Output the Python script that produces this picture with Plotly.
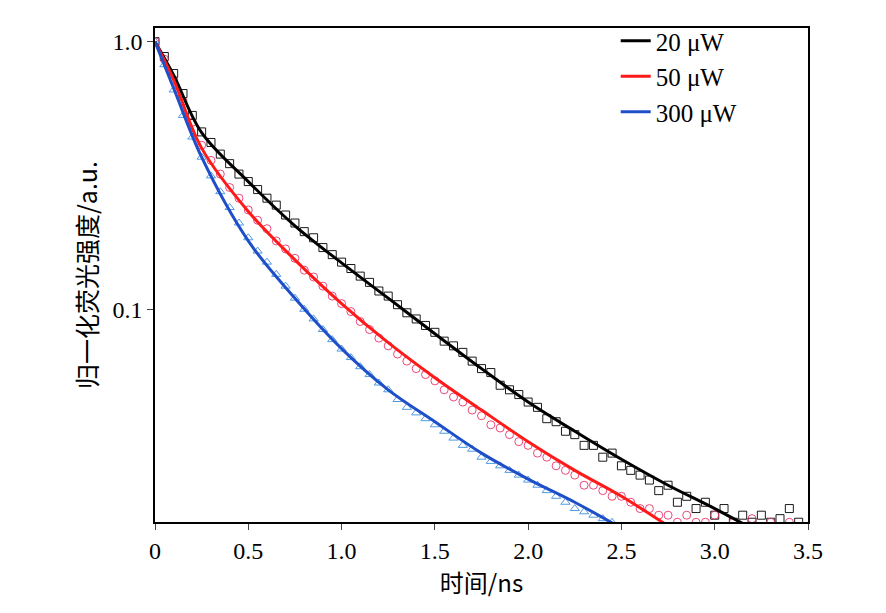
import plotly.graph_objects as go

# measured points (step 0.05 ns)
x_20 = [round(i * 0.05, 2) for i in range(70)]
y_20 = [1.0, 0.88, 0.76, 0.64, 0.53, 0.46, 0.42, 0.38, 0.35, 0.32, 0.30, 0.28, 0.26, 0.245, 0.225, 0.21, 0.195, 0.185,
        0.17, 0.16, 0.15, 0.142, 0.133, 0.126, 0.117, 0.112, 0.104, 0.097, 0.092, 0.087, 0.082, 0.076, 0.073, 0.069,
        0.064, 0.06, 0.058, 0.052, 0.05, 0.048, 0.045, 0.043, 0.039, 0.038, 0.035, 0.034, 0.031, 0.031, 0.028, 0.029,
        0.026, 0.025, 0.024, 0.023, 0.021, 0.022, 0.019, 0.020, 0.018, 0.019, 0.017, 0.018, 0.016, 0.017, 0.016,
        0.017, 0.016, 0.0165, 0.018, 0.016]
x_50 = [round(i * 0.05, 2) for i in range(61)] + [3.1, 3.2, 3.3, 3.4]
y_50 = [1.0, 0.86, 0.72, 0.6, 0.5, 0.41, 0.36, 0.32, 0.285, 0.26, 0.235, 0.215, 0.2, 0.18, 0.168, 0.155, 0.14, 0.132,
        0.122, 0.112, 0.105, 0.098, 0.09, 0.084, 0.078, 0.073, 0.068, 0.064, 0.06, 0.057, 0.054, 0.05, 0.047, 0.045,
        0.042, 0.04, 0.037, 0.036, 0.034, 0.032, 0.031, 0.029, 0.028, 0.026, 0.025, 0.024, 0.022, 0.022, 0.021, 0.020,
        0.02, 0.019, 0.018, 0.018, 0.017, 0.017, 0.016, 0.017, 0.016, 0.016, 0.017, 0.016, 0.0165, 0.016, 0.016]
x_300 = [round(i * 0.05, 2) for i in range(50)]
y_300 = [1.0, 0.82, 0.66, 0.53, 0.44, 0.37, 0.315, 0.275, 0.24, 0.21, 0.185, 0.165, 0.15, 0.135, 0.122, 0.11, 0.1,
         0.092, 0.084, 0.077, 0.071, 0.066, 0.061, 0.057, 0.053, 0.05, 0.046, 0.043, 0.041, 0.039, 0.037, 0.035, 0.033,
         0.031, 0.03, 0.028, 0.027, 0.026, 0.025, 0.024, 0.023, 0.022, 0.021, 0.02, 0.019, 0.018, 0.0175, 0.017,
         0.0165, 0.016]

# fitted curves
fx_20 = [0, 0.1, 0.25, 0.5, 0.75, 1.0, 1.25, 1.5, 1.75, 2.0, 2.25, 2.5, 2.75, 3.0, 3.25]
fy_20 = [1, 0.75, 0.457, 0.30, 0.205, 0.149, 0.11, 0.081, 0.06, 0.045, 0.035, 0.0275, 0.022, 0.018, 0.0145]
fx_50 = [0, 0.1, 0.25, 0.5, 0.75, 1.0, 1.25, 1.5, 1.75, 2.0, 2.25, 2.5, 2.75]
fy_50 = [1, 0.72, 0.40, 0.232, 0.153, 0.105, 0.075, 0.0555, 0.042, 0.032, 0.025, 0.02, 0.0155]
fx_300 = [0, 0.1, 0.25, 0.5, 0.75, 1.0, 1.25, 1.5, 1.75, 2.0, 2.25, 2.5]
fy_300 = [1, 0.67, 0.37, 0.18, 0.11, 0.0713, 0.05, 0.038, 0.029, 0.0232, 0.019, 0.0152]

fig = go.Figure()
mk = dict(size=8, line=dict(width=0.9))
fig.add_trace(go.Scatter(x=x_20, y=y_20, mode="markers", showlegend=False,
                         marker=dict(symbol="square-open", color="black", **mk)))
fig.add_trace(go.Scatter(x=x_50, y=y_50, mode="markers", showlegend=False,
                         marker=dict(symbol="circle-open", color="#e8336a", **mk)))
fig.add_trace(go.Scatter(x=x_300, y=y_300, mode="markers", showlegend=False,
                         marker=dict(symbol="triangle-up-open", color="#3d8fe0", **mk)))
fig.add_trace(go.Scatter(x=fx_20, y=fy_20, mode="lines", name="20 μW", line=dict(color="black", width=3, shape="spline")))
fig.add_trace(go.Scatter(x=fx_50, y=fy_50, mode="lines", name="50 μW", line=dict(color="#ff1a1a", width=3, shape="spline")))
fig.add_trace(go.Scatter(x=fx_300, y=fy_300, mode="lines", name="300 μW", line=dict(color="#1f4fc8", width=3, shape="spline")))

fig.update_layout(
    width=886, height=613, plot_bgcolor="white", paper_bgcolor="white",
    margin=dict(l=147, r=86, t=10, b=99),
    font=dict(family="Liberation Serif, Noto Sans CJK SC", size=24, color="black"),
    legend=dict(x=0.9, y=1.02, xanchor="right", yanchor="top", bgcolor="rgba(0,0,0,0)",
                font=dict(size=25), tracegroupgap=0, itemwidth=30),
)
fig.update_xaxes(range=[0, 3.5], tickvals=[0, 0.5, 1.0, 1.5, 2.0, 2.5, 3.0, 3.5],
                 ticktext=["0", "0.5", "1.0", "1.5", "2.0", "2.5", "3.0", "3.5"],
                 ticks="outside", ticklen=6, showline=True, linecolor="black", linewidth=1.5, mirror=True,
                 showgrid=False, zeroline=False,
                 title=dict(text="时间/ns", standoff=2, font=dict(family="Noto Sans CJK SC, Liberation Serif", size=24)))
fig.update_yaxes(type="log", range=[-1.795, 0.051], tickvals=[0.1, 1.0], ticktext=["0.1", "1.0"],
                 ticks="outside", ticklen=6, showline=True, linecolor="black", linewidth=1.5, mirror=True,
                 showgrid=False, zeroline=False,
                 title=dict(text="归一化荧光强度/a.u.", standoff=8, font=dict(family="Noto Sans CJK SC, Liberation Serif", size=25)))
fig.write_html("out.html")
